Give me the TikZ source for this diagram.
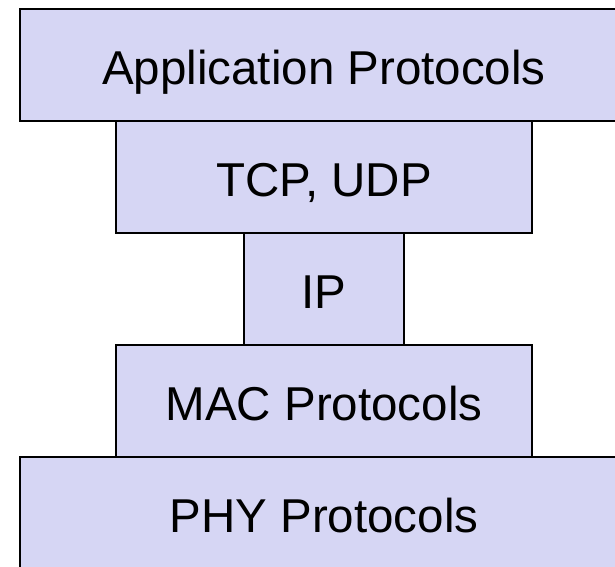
\documentclass[tikz,border=0pt]{standalone}
\usepackage{fontspec}
\setmainfont{Liberation Sans}
\usetikzlibrary{positioning}
\definecolor{layerfill}{RGB}{214,214,244}

\begin{document}
\begin{tikzpicture}[x=1pt, y=-1pt,
    layer/.style={draw=black, line width=2pt, fill=layerfill, outer sep=0pt,
                  inner sep=0pt, minimum height=112pt,
                  text height=39pt, text depth=0pt,
                  font=\fontsize{47.5}{57}\selectfont}]
        \useasboundingbox (0,0) rectangle (615,566);
        \clip (0,0) rectangle (615,566);
        \node[layer, minimum width=608pt] (app) at (324,65) {Application Protocols};
        \node[layer, minimum width=416pt, below=0pt of app] (tcp) {TCP, UDP};
        \node[layer, minimum width=160pt, below=0pt of tcp] (ip)  {IP};
        \node[layer, minimum width=416pt, below=0pt of ip]  (mac) {MAC Protocols};
        \node[layer, minimum width=608pt, below=0pt of mac] (phy) {PHY Protocols};
\end{tikzpicture}
\end{document}
